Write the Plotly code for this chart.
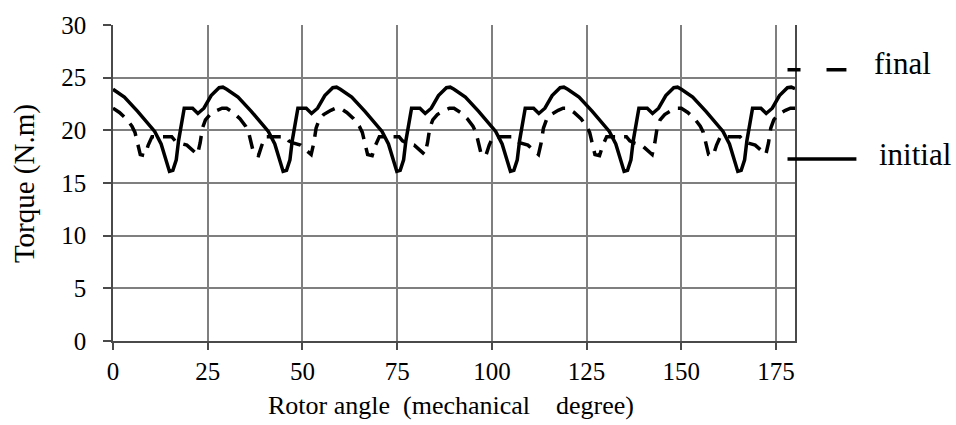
import plotly.graph_objects as go

# Rotor angle (mechanical degree) and torque (N.m)
angle_initial = [0, 3, 6.5, 9.2, 11, 12.7, 14, 14.9, 15.8, 16.7, 17.3, 18, 18.8, 21, 22.4, 24, 25.9, 28, 29,
                 30, 33, 36.5, 39.2, 41, 42.7, 44, 44.9, 45.8, 46.7, 47.3, 48, 48.8, 51, 52.4, 54, 55.9, 58, 59,
                 60, 63, 66.5, 69.2, 71, 72.7, 74, 74.9, 75.8, 76.7, 77.3, 78, 78.8, 81, 82.4, 84, 85.9, 88, 89,
                 90, 93, 96.5, 99.2, 101, 102.7, 104, 104.9, 105.8, 106.7, 107.3, 108, 108.8, 111, 112.4, 114, 115.9, 118, 119,
                 120, 123, 126.5, 129.2, 131, 132.7, 134, 134.9, 135.8, 136.7, 137.3, 138, 138.8, 141, 142.4, 144, 145.9, 148, 149,
                 150, 153, 156.5, 159.2, 161, 162.7, 164, 164.9, 165.8, 166.7, 167.3, 168, 168.8, 171, 172.4, 174, 175.9, 178, 179,
                 180]
torque_initial = [23.9, 23.15, 21.8, 20.7, 19.9, 18.7, 17.1, 16.1, 16.2, 17.2, 19.0, 20.6, 22.1, 22.1, 21.6, 22.1, 23.3, 24.05, 24.1,
                  23.9, 23.15, 21.8, 20.7, 19.9, 18.7, 17.1, 16.1, 16.2, 17.2, 19.0, 20.6, 22.1, 22.1, 21.6, 22.1, 23.3, 24.05, 24.1,
                  23.9, 23.15, 21.8, 20.7, 19.9, 18.7, 17.1, 16.1, 16.2, 17.2, 19.0, 20.6, 22.1, 22.1, 21.6, 22.1, 23.3, 24.05, 24.1,
                  23.9, 23.15, 21.8, 20.7, 19.9, 18.7, 17.1, 16.1, 16.2, 17.2, 19.0, 20.6, 22.1, 22.1, 21.6, 22.1, 23.3, 24.05, 24.1,
                  23.9, 23.15, 21.8, 20.7, 19.9, 18.7, 17.1, 16.1, 16.2, 17.2, 19.0, 20.6, 22.1, 22.1, 21.6, 22.1, 23.3, 24.05, 24.1,
                  23.9, 23.15, 21.8, 20.7, 19.9, 18.7, 17.1, 16.1, 16.2, 17.2, 19.0, 20.6, 22.1, 22.1, 21.6, 22.1, 23.3, 24.05, 24.1,
                  23.95]

angle_final = [0, 1.7, 3.5, 5, 5.8, 6.5, 7.2, 8.4, 9.3, 10.3, 13, 15.5, 16.4, 17.5, 19.5, 21, 22.3, 23, 23.6, 24.4, 25.6, 27.5, 28.8,
               30, 31.7, 33.5, 35, 35.8, 36.5, 37.2, 38.4, 39.3, 40.3, 43, 45.5, 46.4, 47.5, 49.5, 51, 52.3, 53, 53.6, 54.4, 55.6, 57.5, 58.8,
               60, 61.7, 63.5, 65, 65.8, 66.5, 67.2, 68.4, 69.3, 70.3, 73, 75.5, 76.4, 77.5, 79.5, 81, 82.3, 83, 83.6, 84.4, 85.6, 87.5, 88.8,
               90, 91.7, 93.5, 95, 95.8, 96.5, 97.2, 98.4, 99.3, 100.3, 103, 105.5, 106.4, 107.5, 109.5, 111, 112.3, 113, 113.6, 114.4, 115.6, 117.5, 118.8,
               120, 121.7, 123.5, 125, 125.8, 126.5, 127.2, 128.4, 129.3, 130.3, 133, 135.5, 136.4, 137.5, 139.5, 141, 142.3, 143, 143.6, 144.4, 145.6, 147.5, 148.8,
               150, 151.7, 153.5, 155, 155.8, 156.5, 157.2, 158.4, 159.3, 160.3, 163, 165.5, 166.4, 167.5, 169.5, 171, 172.3, 173, 173.6, 174.4, 175.6, 177.5, 178.8,
               180]
torque_final = [22.1, 21.7, 21.1, 20.4, 19.8, 18.8, 17.7, 17.6, 18.6, 19.4, 19.4, 19.4, 19.0, 18.8, 18.6, 18.1, 17.7, 18.8, 20.2, 21.0, 21.5, 21.9, 22.1,
                22.1, 21.7, 21.1, 20.4, 19.8, 18.8, 17.7, 17.6, 18.6, 19.4, 19.4, 19.4, 19.0, 18.8, 18.6, 18.1, 17.7, 18.8, 20.2, 21.0, 21.5, 21.9, 22.1,
                22.1, 21.7, 21.1, 20.4, 19.8, 18.8, 17.7, 17.6, 18.6, 19.4, 19.4, 19.4, 19.0, 18.8, 18.6, 18.1, 17.7, 18.8, 20.2, 21.0, 21.5, 21.9, 22.1,
                22.1, 21.7, 21.1, 20.4, 19.8, 18.8, 17.7, 17.6, 18.6, 19.4, 19.4, 19.4, 19.0, 18.8, 18.6, 18.1, 17.7, 18.8, 20.2, 21.0, 21.5, 21.9, 22.1,
                22.1, 21.7, 21.1, 20.4, 19.8, 18.8, 17.7, 17.6, 18.6, 19.4, 19.4, 19.4, 19.0, 18.8, 18.6, 18.1, 17.7, 18.8, 20.2, 21.0, 21.5, 21.9, 22.1,
                22.1, 21.7, 21.1, 20.4, 19.8, 18.8, 17.7, 17.6, 18.6, 19.4, 19.4, 19.4, 19.0, 18.8, 18.6, 18.1, 17.7, 18.8, 20.2, 21.0, 21.5, 21.9, 22.1,
                22.1]

x_ticks = [0, 25, 50, 75, 100, 125, 150, 175]
y_ticks = [0, 5, 10, 15, 20, 25, 30]
series_names = ["final", "initial"]
x_title = "Rotor angle\u00a0 (mechanical\u00a0\u00a0\u00a0 degree)"
y_title = "Torque (N.m)"

FONT = "Liberation Serif, Times New Roman, serif"

fig = go.Figure()
fig.add_trace(go.Scatter(x=angle_final, y=torque_final, mode="lines", name=series_names[0],
                         line=dict(color="black", width=3.5, dash="14px,9px")))
fig.add_trace(go.Scatter(x=angle_initial, y=torque_initial, mode="lines", name=series_names[1],
                         line=dict(color="black", width=3.5)))

# plot area in pixels: x 112.5..795.5, y 18.3..340.7
L, R, T, B = 112.5, 795.5, 18.3, 340.7
W, H = R - L, B - T
def px(x):
    return (x - L) / W
def py(y):
    return (B - y) / H

# legend (drawn manually to match the reference layout)
fig.add_shape(type="line", xref="paper", yref="paper", x0=px(788), x1=px(847), y0=py(64), y1=py(64),
              line=dict(color="black", width=3.5, dash="13px,26px,21px,100px"))
fig.add_shape(type="line", xref="paper", yref="paper", x0=px(788), x1=px(857), y0=py(155), y1=py(155),
              line=dict(color="black", width=3.5))
fig.add_annotation(x=px(873), y=py(58), xref="paper", yref="paper", text=series_names[0], showarrow=False,
                   xanchor="left", yanchor="middle", font=dict(family=FONT, size=31, color="black"))
fig.add_annotation(x=px(878), y=py(150), xref="paper", yref="paper", text=series_names[1], showarrow=False,
                   xanchor="left", yanchor="middle", font=dict(family=FONT, size=31, color="black"))

# axis titles
fig.add_annotation(x=px(451), y=py(406), xref="paper", yref="paper", text=x_title, showarrow=False,
                   xanchor="center", yanchor="middle", font=dict(family=FONT, size=26, color="black"))
fig.add_annotation(x=px(24), y=py(180), xref="paper", yref="paper", text=y_title, showarrow=False,
                   textangle=-90, xanchor="center", yanchor="middle", font=dict(family=FONT, size=29, color="black"))

fig.update_layout(
    width=956, height=425,
    margin=dict(l=L, r=956 - R, t=T, b=425 - B, pad=0),
    paper_bgcolor="white", plot_bgcolor="white",
    showlegend=False,
    font=dict(family=FONT, size=25, color="black"),
)
fig.update_xaxes(range=[0, 180], tickvals=x_ticks, ticktext=[str(v) for v in x_ticks],
                 showgrid=True, gridcolor="#7f7f7f", gridwidth=1.5,
                 showline=True, linecolor="#4a4a4a", linewidth=1.5,
                 ticks="outside", ticklen=7, tickwidth=1.5, tickcolor="#4a4a4a",
                 ticklabelstandoff=0, zeroline=False,
                 tickfont=dict(family=FONT, size=25, color="black"))
fig.update_yaxes(range=[0, 30], tickvals=y_ticks, ticktext=[str(v) for v in y_ticks],
                 showgrid=True, gridcolor="#7f7f7f", gridwidth=1.5,
                 showline=True, linecolor="#4a4a4a", linewidth=1.5, mirror=True,
                 ticks="outside", ticklen=8, tickwidth=1.5, tickcolor="#4a4a4a",
                 ticklabelstandoff=12, zeroline=False,
                 tickfont=dict(family=FONT, size=25, color="black"))

fig.write_html("out.html")
